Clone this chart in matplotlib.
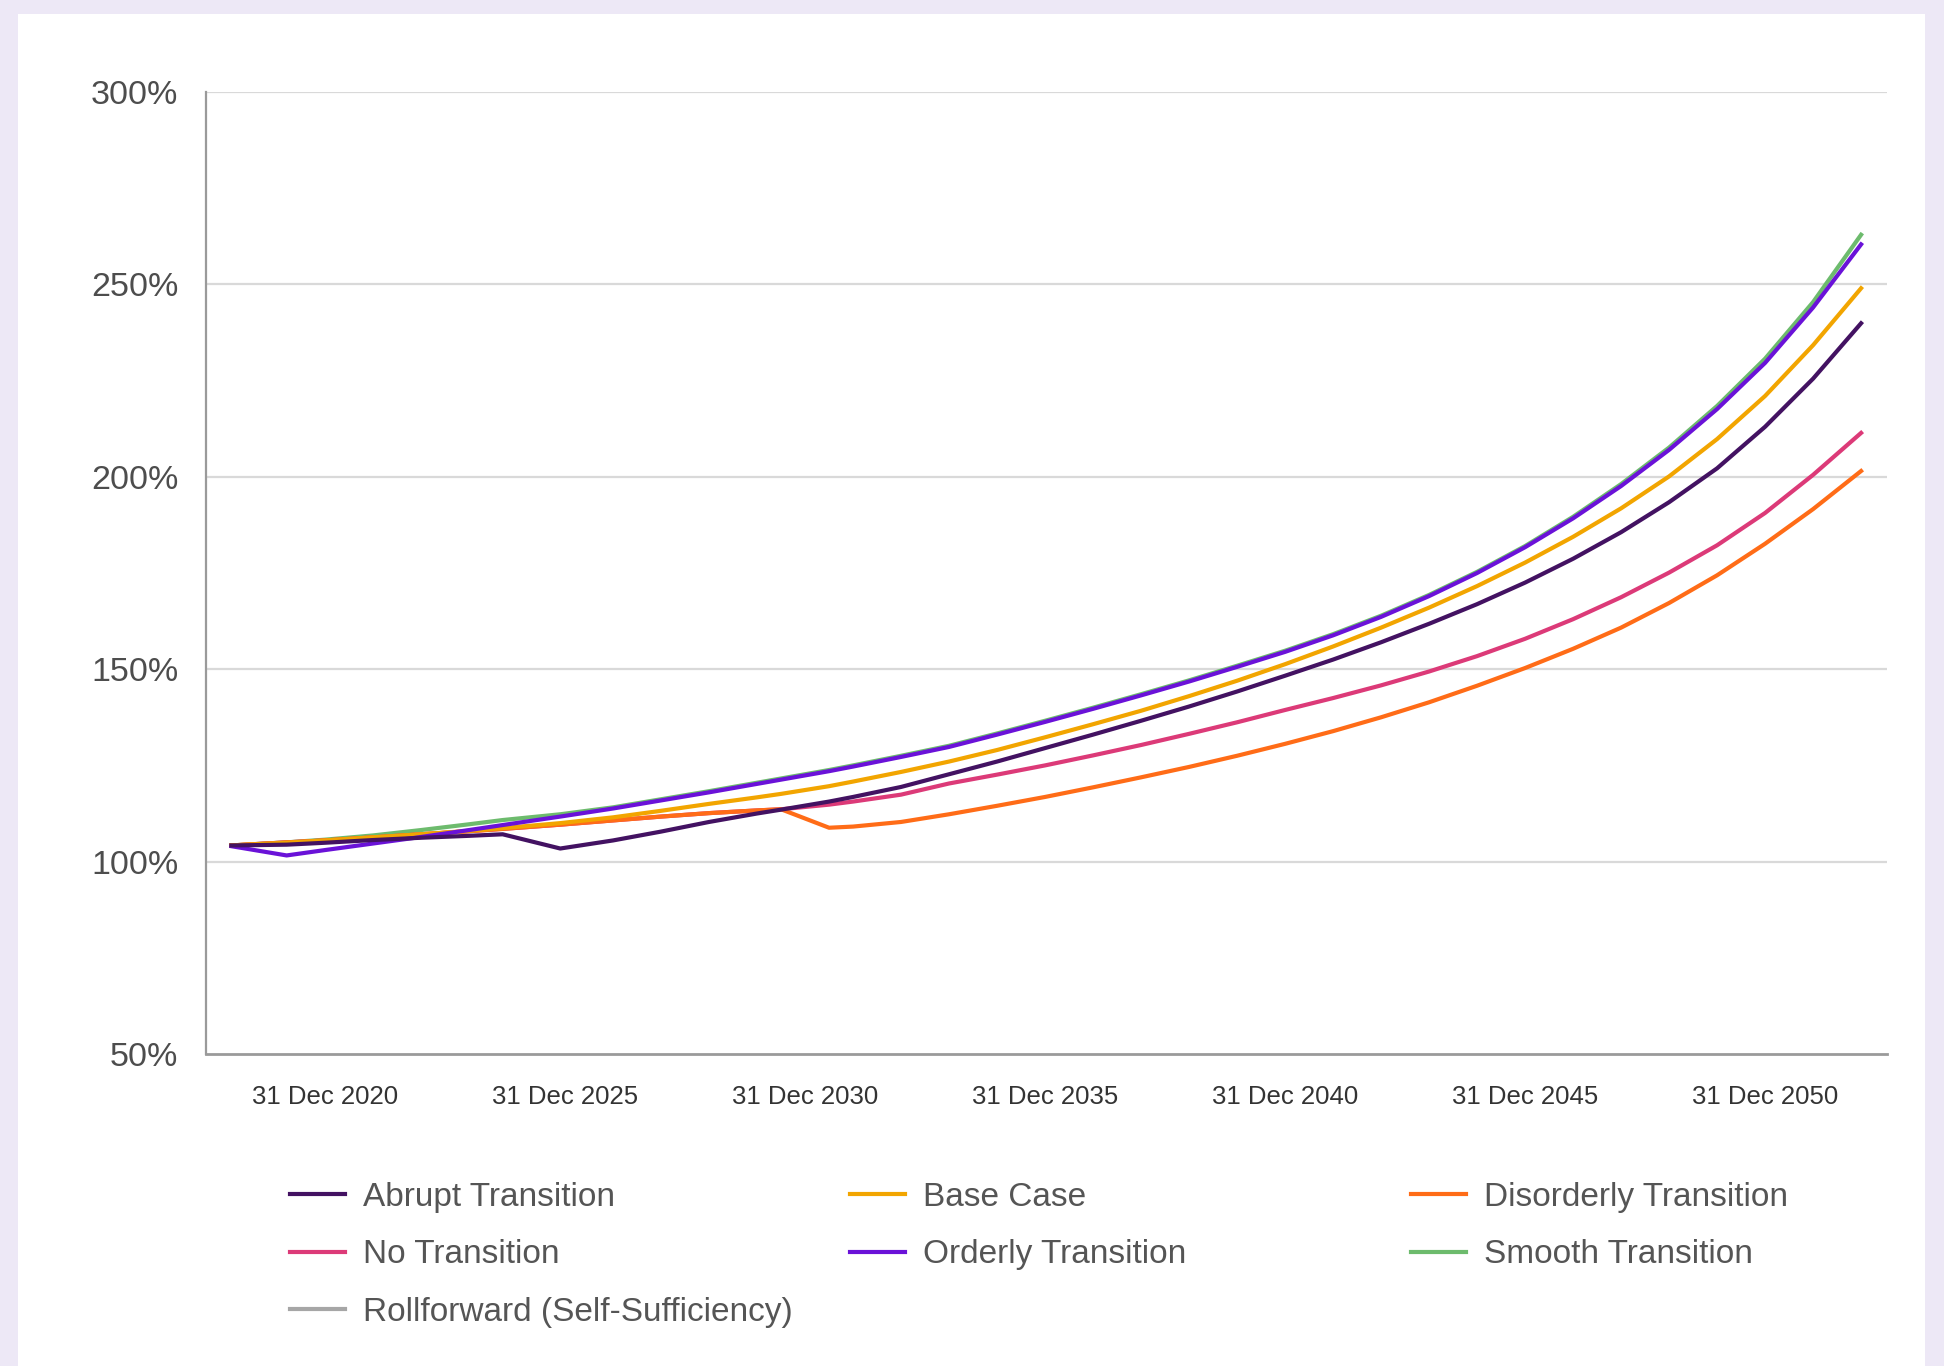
import numpy as np
import matplotlib.pyplot as plt
from matplotlib.patches import Rectangle
from matplotlib.ticker import FuncFormatter

plt.rcParams['font.family'] = ['Liberation Sans', 'DejaVu Sans']

# x positions in years ("2020" = 31 Dec 2020)
years = [2018.05, 2019.2, 2020, 2021, 2022, 2023, 2023.7, 2024.9, 2026, 2027,
         2028, 2029, 2029.5, 2030.5, 2031, 2032, 2033, 2034, 2035, 2036,
         2037, 2038, 2039, 2040, 2041, 2042, 2043, 2044, 2045, 2046,
         2047, 2048, 2049, 2050, 2051, 2052]

abrupt = [104.2, 104.4, 104.9, 105.6, 106.2, 106.7, 107.1, 103.4, 105.5, 107.8,
          110.3, 112.5, 113.5, 115.6, 116.8, 119.4, 122.7, 126.0, 129.5, 133.0,
          136.6, 140.3, 144.2, 148.3, 152.5, 157.0, 161.8, 166.9, 172.5, 178.7,
          185.6, 193.4, 202.2, 213.0, 225.5, 239.9]

base_case = [104.2, 104.9, 105.5, 106.3, 107.1, 108.0, 108.7, 110.0, 111.5, 113.2,
             115.0, 116.7, 117.6, 119.6, 120.8, 123.3, 126.0, 129.0, 132.3, 135.7,
             139.2, 143.0, 147.0, 151.3, 155.9, 160.8, 166.0, 171.6, 177.7, 184.4,
             191.8, 200.1, 209.8, 221.0, 234.2, 249.0]

disorderly = [104.2, 105.0, 105.5, 106.3, 107.1, 107.9, 108.5, 109.6, 110.7, 111.7,
              112.6, 113.3, 113.6, 108.8, 109.1, 110.3, 112.3, 114.5, 116.8, 119.3,
              121.9, 124.6, 127.5, 130.6, 133.9, 137.5, 141.4, 145.7, 150.3, 155.3,
              160.8, 167.2, 174.4, 182.6, 191.6, 201.5]

no_transition = [104.2, 105.0, 105.5, 106.3, 107.1, 107.9, 108.5, 109.6, 110.7, 111.7,
                 112.6, 113.3, 113.6, 114.8, 115.6, 117.4, 120.3, 122.6, 125.0, 127.6,
                 130.3, 133.2, 136.2, 139.4, 142.5, 145.8, 149.4, 153.4, 157.9, 163.0,
                 168.7, 175.1, 182.2, 190.6, 200.5, 211.4]

orderly = [104.0, 101.6, 103.0, 104.7, 106.4, 108.2, 109.5, 111.7, 113.8, 115.9,
           118.0, 120.2, 121.3, 123.5, 124.7, 127.2, 129.8, 133.0, 136.3, 139.7,
           143.2, 146.8, 150.6, 154.5, 158.8, 163.6, 169.0, 175.0, 181.7, 189.2,
           197.6, 207.0, 217.6, 229.6, 244.0, 260.4]

smooth = [104.2, 105.0, 105.7, 106.8, 108.2, 109.7, 110.8, 112.3, 114.1, 116.2,
          118.3, 120.5, 121.6, 123.8, 125.0, 127.5, 130.1, 133.3, 136.6, 140.0,
          143.5, 147.1, 150.9, 154.8, 159.1, 163.9, 169.3, 175.3, 182.0, 189.6,
          198.1, 207.6, 218.4, 230.7, 245.4, 262.9]

rollforward = []  # not visible in the chart

tick_years = [2020, 2025, 2030, 2035, 2040, 2045, 2050]
tick_labels = ["31 Dec 2020", "31 Dec 2025", "31 Dec 2030", "31 Dec 2035",
               "31 Dec 2040", "31 Dec 2045", "31 Dec 2050"]

W, H = 1944, 1366
fig = plt.figure(figsize=(W / 100, H / 100), dpi=100)
fig.patch.set_facecolor('#ede8f6')
fig.patches.append(Rectangle((18 / W, 0), (1925 - 18) / W, (H - 14) / H,
                             transform=fig.transFigure, facecolor='white',
                             edgecolor='none', zorder=-10))

ax = fig.add_axes([206 / W, 1 - 1054 / H, (1887 - 206) / W, (1054 - 92) / H])
ax.set_facecolor('none')

lw = 3.0
h_roll, = ax.plot(years[:len(rollforward)], rollforward, color='#a6a6a6', lw=lw,
                  label='Rollforward (Self-Sufficiency)')
h_smooth, = ax.plot(years, smooth, color='#6dbb6d', lw=lw, label='Smooth Transition', zorder=2)
h_no, = ax.plot(years, no_transition, color='#dc3a78', lw=lw, label='No Transition', zorder=3)
h_dis, = ax.plot(years, disorderly, color='#ff6c17', lw=lw, label='Disorderly Transition', zorder=4)
h_base, = ax.plot(years, base_case, color='#f2a500', lw=lw, label='Base Case', zorder=5)
h_ord, = ax.plot(years, orderly, color='#6a12d8', lw=lw, label='Orderly Transition', zorder=6)
h_abr, = ax.plot(years, abrupt, color='#431262', lw=lw, label='Abrupt Transition', zorder=7)

ax.set_xlim(2017.52, 2052.54)
ax.set_ylim(50, 300)
ax.set_yticks([50, 100, 150, 200, 250, 300])
ax.yaxis.set_major_formatter(FuncFormatter(lambda v, p: f"{v:.0f}%"))
ax.set_xticks(tick_years)
ax.set_xticklabels(tick_labels)

for v in [100, 150, 200, 250, 300]:
    ax.axhline(v, color='#d9d9d9', lw=1.6, zorder=1)

for s in ['top', 'right']:
    ax.spines[s].set_visible(False)
ax.spines['left'].set_color('#9a9a9a')
ax.spines['bottom'].set_color('#9a9a9a')
ax.spines['left'].set_linewidth(1.6)
ax.spines['bottom'].set_linewidth(2.0)

ax.tick_params(axis='y', length=0, pad=20, labelsize=24.5, labelcolor='#4d4d4d')
ax.tick_params(axis='x', length=0, pad=22, labelsize=18.5, labelcolor='#333333')

# legend: three fixed columns
cols = [([h_abr, h_no, h_roll], 290), ([h_base, h_ord], 850), ([h_dis, h_smooth], 1411)]
for handles, xpx in cols:
    leg = fig.legend(handles=handles, labels=[h.get_label() for h in handles],
                     loc='upper left', bbox_to_anchor=(xpx / W, 1 - 1182 / H),
                     frameon=False, fontsize=24, handlelength=1.65,
                     handletextpad=0.55, labelspacing=0.79, borderpad=0,
                     borderaxespad=0, labelcolor='#555555')
    for line in leg.get_lines():
        line.set_linewidth(3)

fig.savefig('out.png', dpi=100)
